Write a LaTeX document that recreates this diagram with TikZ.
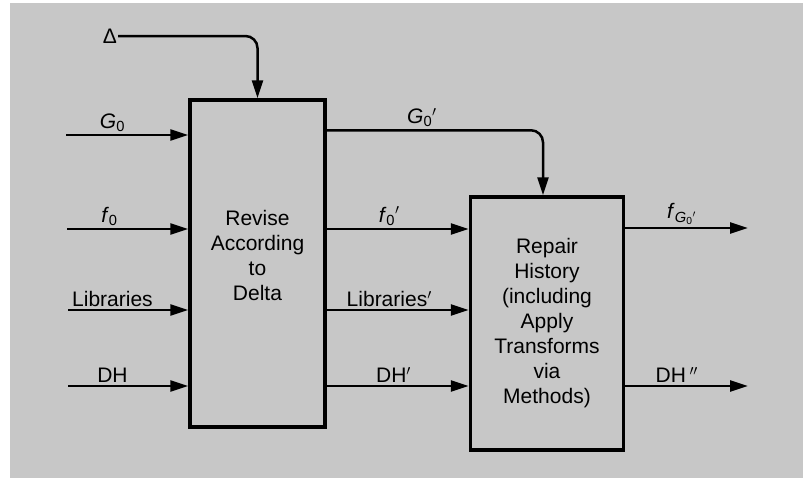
\documentclass[tikz,border=0pt]{standalone}
\usepackage{fontspec}
\setmainfont{Liberation Sans}
\usepackage{tikz}
\usetikzlibrary{arrows.meta, positioning}
\newcommand{\lowidx}[1]{\textsubscript{#1}}
\newcommand{\prm}{$'$}

\begin{document}
\begin{tikzpicture}[x=1pt, y=-1pt,
    procbox/.style={rectangle, draw=black, line width=3.5pt, align=center,
                    font=\fontsize{21}{25}\selectfont},
    arr/.style={-{Triangle[length=18pt, width=11pt]}, line width=2.5pt},
    lbl/.style={above, inner sep=2pt, font=\fontsize{21}{24}\selectfont}
]
\useasboundingbox (0,0) rectangle (803,488);
\fill[black!22] (10,3) rectangle (803,478);

% the two process boxes
\node[procbox, minimum width=135pt, minimum height=327pt] (revise) at (257.5,263.5)
    {Revise\\According\\to\\Delta\\[-9pt]};
\node[procbox, minimum width=153pt, minimum height=253pt, right=142pt of revise, yshift=-60pt] (repair)
    {Repair\\History\\(including\\Apply\\Transforms\\via\\Methods)};

% free ends of the inputs and outputs
\node[font=\fontsize{21}{24}\selectfont, inner sep=1pt] (delta) at (110,36) {Δ};
\coordinate (g0in) at (66,135);
\coordinate (f0in) at (67,229);
\coordinate (libin) at (68,310);
\coordinate (dhin) at (68,386);
\coordinate (fout) at (748,228);
\coordinate (dhout) at (748,386);

\draw[arr, rounded corners=12pt] (delta.east) -| (revise.north);
\draw[arr] (g0in) -- (g0in -| revise.west) node[lbl, pos=.38] {\textit{G}\lowidx{0}};
\draw[arr] (f0in) -- (f0in -| revise.west) node[lbl, pos=.35] {\textit{f}\lowidx{0}};
\draw[arr] (libin) -- (libin -| revise.west) node[lbl, pos=.37] {Libraries};
\draw[arr] (dhin) -- (dhin -| revise.west) node[lbl, pos=.37] {DH};

\draw[arr, rounded corners=12pt] ([yshift=-32pt]revise.north east) -| ([xshift=-4pt]repair.north)
    node[lbl, pos=.22] {\textit{G}\lowidx{0}\prm};
\draw[arr] (revise.east |- f0in) -- (repair.west |- f0in) node[lbl, pos=.44] {\textit{f}\lowidx{0}\prm};
\draw[arr] (revise.east |- libin) -- (repair.west |- libin) node[lbl, pos=.44] {Libraries\prm};
\draw[arr] (revise.east |- dhin) -- (repair.west |- dhin) node[lbl, pos=.47] {DH\prm};

\draw[arr] (repair.east |- fout) -- (fout) node[lbl, pos=.46] {\textit{f}\lowidx{\textit{G}\lowidx{0}\prm}};
\draw[arr] (repair.east |- dhout) -- (dhout) node[lbl, pos=.42] {DH\,$''$};
\end{tikzpicture}
\end{document}
